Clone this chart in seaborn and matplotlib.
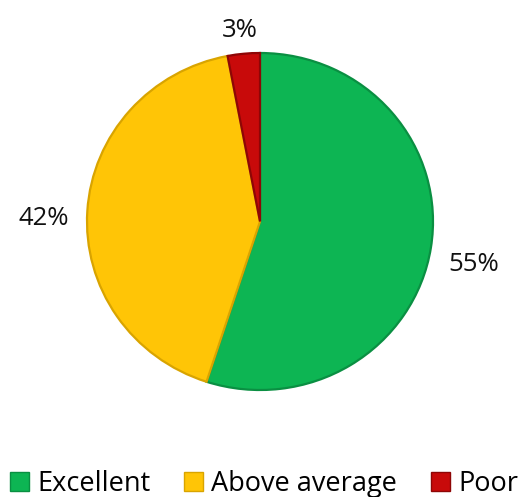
import matplotlib
matplotlib.use("Agg")
import matplotlib.pyplot as plt
import seaborn as sns
from matplotlib.patches import Patch

categories = ["Excellent", "Above average", "Poor"]
shares = [55, 42, 3]
colors = ["#0DB553", "#FFC506", "#C80A0A"]
edge_colors = ["#0A8F42", "#D9A400", "#8E0606"]

sns.set_theme(style="white")
plt.rcParams["font.family"] = ["Open Sans", "DejaVu Sans"]

fig = plt.figure(figsize=(5.28, 4.97), dpi=100)
pad = 1.02
w_px, h_px = 346 * pad, 337 * pad
ax = fig.add_axes([(260 - w_px / 2) / 528, (497 - 221.5 - h_px / 2) / 497,
                   w_px / 528, h_px / 497])

wedges, texts, autotexts = ax.pie(
    shares,
    colors=colors,
    startangle=90,
    counterclock=False,
    autopct="%.0f%%",
    pctdistance=1.25,
    radius=1.0,
    wedgeprops=dict(linewidth=1.6),
    textprops=dict(fontsize=18.5, color="#111111"),
)
for w, ec in zip(wedges, edge_colors):
    w.set_edgecolor(ec)
for t in autotexts:
    x, y = t.get_position()
    # labels above the pie sit a little closer to the rim
    dy = 0.11 if y > 1 else 0.06
    t.set_position((x, y - dy))

ax.set_xlim(-pad, pad)
ax.set_ylim(-pad, pad)
ax.set_aspect("auto")
ax.axis("off")

handles = [Patch(facecolor=c, edgecolor=ec, linewidth=1.0)
           for c, ec in zip(colors, edge_colors)]
fig.legend(
    handles, categories,
    loc="center", bbox_to_anchor=(0.5, 13 / 497),
    ncol=3, frameon=False, fontsize=19.5,
    handlelength=0.7, handleheight=0.7, handletextpad=0.3,
    columnspacing=1.25, labelcolor="#000000",
)

fig.savefig("out.png", dpi=100)
